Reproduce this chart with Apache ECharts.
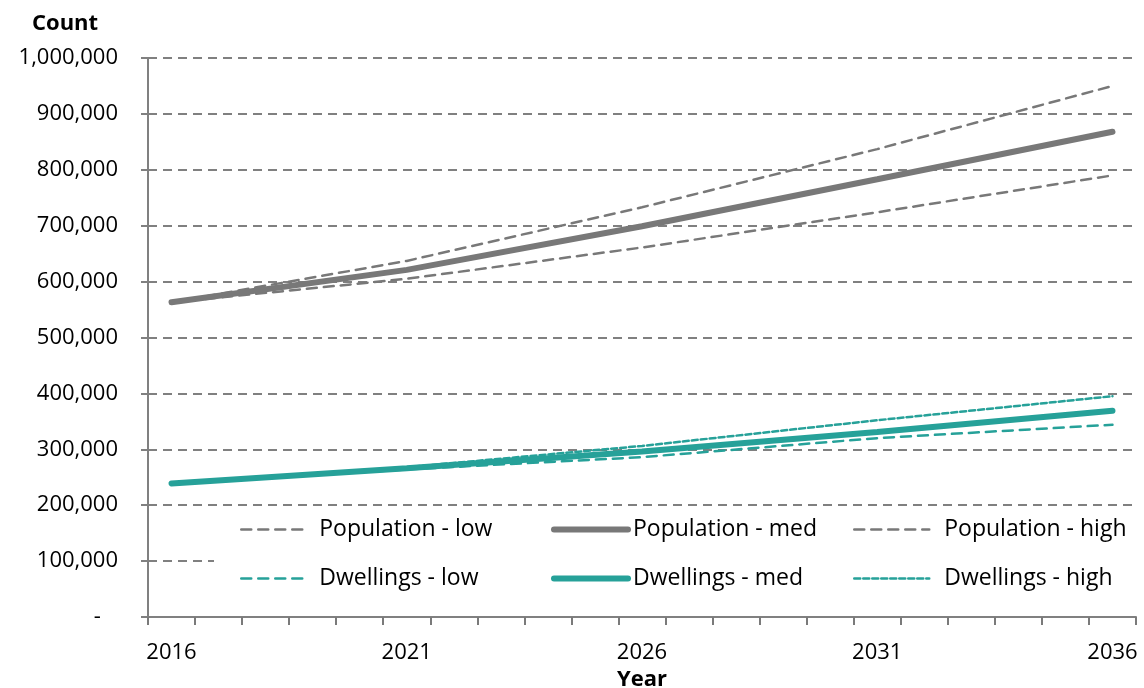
<!DOCTYPE html>
<html>
<head>
<meta charset="utf-8">
<script src="https://cdn.jsdelivr.net/npm/echarts@6/dist/echarts.min.js"></script>
<style>html,body{margin:0;padding:0;background:#fff}#c{width:1144px;height:688px}</style>
</head>
<body>
<div id="c"></div>
<script>
var years = ['2016','2017','2018','2019','2020','2021','2022','2023','2024','2025','2026','2027','2028','2029','2030','2031','2032','2033','2034','2035','2036'];
var yTicks = [0,100000,200000,300000,400000,500000,600000,700000,800000,900000,1000000];
var n = null;
var popLow  = [563000,n,n,n,n,605000,n,n,n,n,661000,n,n,n,n,724000,n,n,n,n,790000];
var popMed  = [563000,n,n,n,n,621000,n,n,n,n,699000,n,n,n,n,783000,n,n,n,n,868000];
var popHigh = [563000,n,n,n,n,637000,n,n,n,n,733000,n,n,n,n,837000,n,n,n,n,950000];
var dwLow   = [239000,n,n,n,n,264000,n,n,n,n,286000,n,n,n,n,320000,n,n,n,n,344000];
var dwMed   = [239000,n,n,n,n,266000,n,n,n,n,296000,n,n,n,n,331000,n,n,n,n,369000];
var dwHigh  = [239000,n,n,n,n,268000,n,n,n,n,306000,n,n,n,n,352000,n,n,n,n,395000];
var legendRows = [['Population - low','Population - med','Population - high'], ['Dwellings - low','Dwellings - med','Dwellings - high']];

var GRAY = '#787878', TEAL = '#26a199', FONT = 'Open Sans';
function fmt(v){ if (v === 0) return '-   '; return v.toString().replace(/\B(?=(\d{3})+(?!\d))/g, ','); }
function line(name, data, color, width, dash, z){
  return { name: name, type: 'line', data: data, connectNulls: true, symbol: 'none', z: z,
    lineStyle: { color: color, width: width, type: dash, cap: 'round' }, itemStyle: { color: color } };
}
var colLeft = [240, 551, 853], colIcon = [65, 74, 75], colPad = [8, 0, 10], rowTop = [518, 567];
var legends = [];
legendRows.forEach(function(row, r){
  row.forEach(function(name, c){
    legends.push({ data: [name], left: colLeft[c], top: rowTop[r], itemWidth: colIcon[c], itemHeight: 22,
      itemStyle: { opacity: 0 }, lineStyle: { width: 'inherit' }, padding: 0,
      textStyle: { fontFamily: FONT, fontSize: 23, color: '#000', padding: [0, 0, 0, colPad[c]] }, z: 5 });
  });
});
var chart = echarts.init(document.getElementById('c'));
chart.setOption({
  animation: false,
  backgroundColor: '#fff',
  textStyle: { fontFamily: FONT },
  title: { text: 'Count', left: 27, top: 8, textStyle: { fontFamily: FONT, fontWeight: 'bold', fontSize: 22, color: '#000' } },
  grid: { left: 148, right: 8, top: 58, bottom: 71, outerBoundsMode: 'none', containLabel: false },
  xAxis: {
    type: 'category', data: years, boundaryGap: true,
    name: 'Year', nameLocation: 'middle', nameGap: 51,
    nameTextStyle: { fontFamily: FONT, fontWeight: 'bold', fontSize: 22, color: '#000' },
    axisLine: { lineStyle: { color: '#808080', width: 2 } },
    axisTick: { show: true, interval: 0, length: 8, lineStyle: { color: '#7a7a7a', width: 2 } },
    axisLabel: { interval: 4, margin: 25, fontFamily: FONT, fontSize: 22, color: '#000' },
    splitLine: { show: false }
  },
  yAxis: {
    type: 'value', min: yTicks[0], max: yTicks[yTicks.length-1], interval: yTicks[1]-yTicks[0],
    axisLine: { show: true, lineStyle: { color: '#808080', width: 2 } },
    axisTick: { show: true, length: 7, lineStyle: { color: '#808080', width: 2 } },
    axisLabel: { margin: 30, fontFamily: FONT, fontSize: 22, color: '#000', formatter: fmt },
    splitLine: { show: true, lineStyle: { color: '#808080', width: 2, type: [9, 6] } }
  },
  graphic: [{ type: 'rect', left: 214, top: 509, shape: { width: 921, height: 103 }, style: { fill: '#fff' }, z: 3, silent: true }],
  legend: legends,
  series: [
    line('Population - low', popLow, GRAY, 2.5, [10, 7], 2),
    line('Population - med', popMed, GRAY, 6, 'solid', 3),
    line('Population - high', popHigh, GRAY, 2.5, [10, 7], 2),
    line('Dwellings - low', dwLow, TEAL, 2.5, [10, 7], 2),
    line('Dwellings - med', dwMed, TEAL, 6, 'solid', 3),
    line('Dwellings - high', dwHigh, TEAL, 2.5, [6, 3], 2)
  ]
});
</script>
</body>
</html>
